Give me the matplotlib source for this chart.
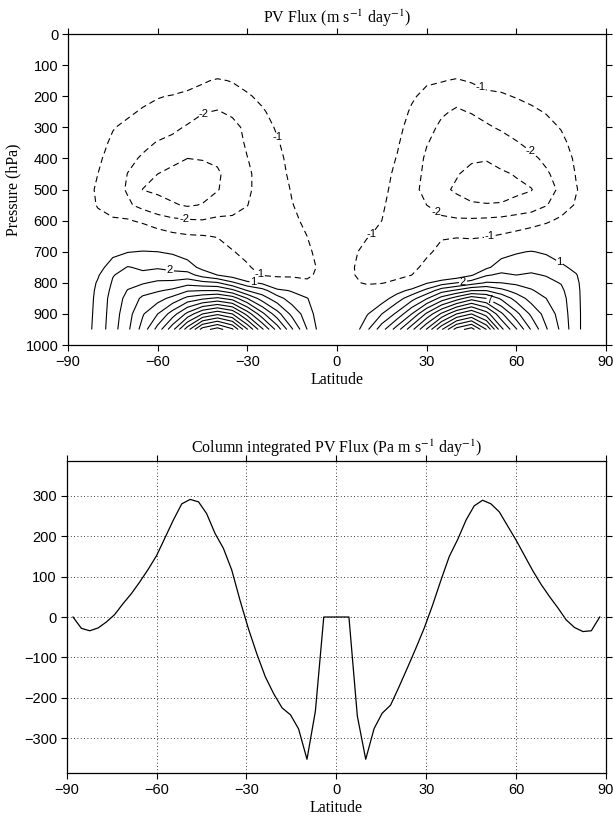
import numpy as np
import matplotlib
matplotlib.use("Agg")
import matplotlib.pyplot as plt

plt.rcParams['font.family'] = 'Liberation Sans'
plt.rcParams['mathtext.fontset'] = 'stix'

# pressure levels (hPa) of the zonal-mean field
plev = [100, 150, 200, 250, 300, 350, 400, 450, 500, 550, 600, 650, 700,
        750, 775, 800, 825, 850, 900, 950]

# PV flux (m s-1 day-1), one column per latitude, values listed top to bottom
lat_sh = [-90, -85, -80, -75, -70, -65, -60, -55, -50, -45, -40, -35, -30,
          -25, -20, -15, -10, -5]
flux_sh = [
    [0]*20,
    [0, 0, -0.1, -0.2, -0.3, -0.4, -0.5, -0.6, -0.7, -0.65, -0.5, -0.3, -0.1, 0.1, 0.2, 0.3, 0.35, 0.4, 0.45, 0.5],
    [0, -0.05, -0.2, -0.35, -0.55, -0.7, -0.85, -1.0, -1.1, -1.05, -0.8, -0.4, 0.1, 0.6, 0.9, 1.1, 1.2, 1.25, 1.3, 1.35],
    [0, -0.1, -0.35, -0.65, -0.95, -1.15, -1.35, -1.5, -1.6, -1.35, -0.9, -0.1, 0.7, 1.5, 1.95, 2.1, 2.25, 2.4, 2.5, 2.6],
    [0, -0.15, -0.5, -0.85, -1.2, -1.5, -1.8, -2.02, -2.1, -1.85, -0.9, -0.1, 0.95, 2.05, 2.35, 2.7, 3.05, 3.3, 3.6, 3.8],
    [0, -0.25, -0.75, -1.1, -1.45, -1.8, -2.1, -2.6, -3.02, -2.3, -1.2, -0.1, 1.05, 1.85, 2.2, 2.9, 3.6, 4.2, 4.9, 5.4],
    [0, -0.35, -0.95, -1.25, -1.65, -2.05, -2.55, -3.0, -3.2, -2.6, -1.6, -0.45, 1.0, 1.9, 2.45, 3.2, 3.9, 4.6, 6.0, 7.4],
    [0, -0.45, -1.05, -1.35, -1.8, -2.25, -2.75, -3.25, -3.35, -2.9, -1.8, -0.75, 0.85, 1.75, 2.3, 3.3, 4.2, 5.3, 7.5, 9.7],
    [-0.05, -0.65, -1.2, -1.6, -2.1, -2.5, -3.0, -3.3, -3.4, -3.1, -1.9, -0.9, 0.5, 1.45, 2.4, 3.6, 4.9, 6.3, 9.3, 12.6],
    [-0.2, -0.9, -1.35, -1.95, -2.3, -2.75, -2.95, -3.35, -3.4, -2.95, -1.95, -0.95, 0.1, 0.7, 1.6, 3.3, 5.0, 6.8, 11.0, 15.5],
    [-0.3, -1.1, -1.6, -2.05, -2.35, -2.7, -2.9, -3.08, -3.05, -2.6, -1.8, -1.05, -0.5, 0.2, 1.0, 3.1, 5.0, 7.2, 11.8, 16.5],
    [-0.3, -0.95, -1.4, -1.85, -2.25, -2.5, -2.7, -2.75, -2.6, -2.3, -1.85, -1.35, -0.95, -0.3, 0.5, 2.2, 4.3, 6.6, 11.0, 15.2],
    [-0.3, -0.7, -1.1, -1.6, -1.8, -1.85, -2.02, -2.15, -2.15, -2.02, -1.7, -1.5, -1.25, -0.9, -0.3, 1.3, 3.0, 5.0, 8.6, 12.1],
    [0, -0.4, -0.8, -1.1, -1.35, -1.5, -1.6, -1.65, -1.65, -1.55, -1.5, -1.45, -1.4, -1.3, -1.1, 0.8, 2.4, 3.5, 6.3, 9.2],
    [0, -0.2, -0.45, -0.7, -0.9, -1.08, -1.2, -1.25, -1.3, -1.3, -1.3, -1.3, -1.3, -1.25, -1.2, -0.3, 1.3, 2.4, 4.4, 6.6],
    [0, -0.1, -0.2, -0.3, -0.45, -0.6, -0.75, -0.85, -0.95, -1.02, -1.1, -1.15, -1.2, -1.2, -1.1, -0.7, 0.9, 1.5, 2.7, 4.1],
    [0, 0, -0.1, -0.2, -0.3, -0.4, -0.5, -0.6, -0.7, -0.8, -0.9, -1.0, -1.1, -1.15, -1.1, -0.9, 0.3, 1.05, 1.5, 2.0],
    [0, 0, -0.05, -0.1, -0.2, -0.25, -0.3, -0.4, -0.45, -0.5, -0.6, -0.7, -0.8, -0.9, -0.85, -0.6, 0.0, 0.2, 0.3, 0.4],
]
lat_nh = [0, 5, 10, 15, 20, 25, 30, 35, 40, 45, 50, 55, 60, 65, 70, 75, 80, 85, 90]
flux_nh = [
    [0]*20,
    [0, 0, -0.05, -0.1, -0.2, -0.3, -0.35, -0.45, -0.5, -0.6, -0.7, -0.8, -0.9, -0.95, -0.95, -0.85, -0.5, -0.2, 0.0, 0.2],
    [0, -0.05, -0.15, -0.25, -0.4, -0.5, -0.6, -0.7, -0.8, -0.88, -0.95, -0.97, -1.15, -1.25, -1.2, -1.1, -0.6, -0.1, 0.9, 1.8],
    [0, -0.1, -0.25, -0.4, -0.55, -0.65, -0.75, -0.82, -0.88, -0.94, -1.0, -1.1, -1.2, -1.3, -1.25, -1.05, -0.4, 0.5, 2.0, 3.6],
    [0, -0.2, -0.45, -0.65, -0.8, -0.92, -1.02, -1.1, -1.15, -1.2, -1.25, -1.3, -1.35, -1.35, -1.25, -0.8, 0.6, 1.5, 3.2, 5.5],
    [-0.1, -0.55, -0.9, -1.1, -1.25, -1.35, -1.45, -1.55, -1.7, -1.75, -1.7, -1.6, -1.45, -1.3, -1.0, -0.1, 1.3, 2.6, 5.0, 7.7],
    [-0.25, -0.9, -1.2, -1.5, -1.75, -1.95, -2.15, -2.25, -2.3, -2.0, -1.85, -1.65, -1.2, -0.7, -0.3, 0.9, 2.3, 3.9, 7.2, 10.1],
    [-0.3, -0.95, -1.5, -1.9, -2.15, -2.35, -2.55, -2.75, -2.85, -2.4, -1.8, -1.1, -0.7, -0.3, 0.0, 1.5, 3.6, 5.4, 9.2, 12.9],
    [-0.35, -1.1, -1.75, -2.1, -2.4, -2.6, -2.8, -2.95, -3.1, -2.75, -1.85, -1.05, -0.6, -0.2, 0.3, 2.0, 4.2, 6.5, 11.0, 15.5],
    [-0.35, -0.9, -1.6, -1.95, -2.35, -2.65, -2.9, -3.2, -3.35, -2.9, -1.85, -1.1, -0.5, 0.2, 0.9, 2.5, 5.0, 7.6, 12.0, 16.5],
    [-0.3, -0.7, -1.2, -1.75, -2.1, -2.55, -2.95, -3.25, -3.4, -2.95, -1.8, -1.05, -0.2, 0.8, 1.9, 3.1, 5.0, 7.0, 10.5, 14.0],
    [-0.2, -0.7, -1.1, -1.55, -1.9, -2.3, -2.75, -3.1, -3.25, -2.95, -1.7, -0.9, 0.6, 1.5, 2.2, 3.0, 4.3, 5.8, 8.2, 10.3],
    [-0.1, -0.5, -0.95, -1.35, -1.7, -2.05, -2.5, -2.95, -3.15, -2.8, -1.5, -0.75, 0.9, 1.6, 2.0, 2.8, 3.6, 4.6, 6.3, 8.1],
    [0, -0.35, -0.8, -1.15, -1.5, -1.8, -2.15, -2.55, -3.05, -2.5, -1.4, -0.5, 1.05, 1.75, 2.1, 2.6, 3.1, 3.6, 4.8, 5.9],
    [0, -0.2, -0.6, -0.95, -1.25, -1.6, -1.85, -2.1, -2.3, -2.05, -1.15, -0.3, 0.85, 1.65, 1.95, 2.25, 2.6, 3.0, 3.6, 4.1],
    [0, -0.1, -0.35, -0.65, -0.95, -1.2, -1.45, -1.7, -1.85, -1.5, -0.8, -0.1, 0.6, 1.15, 1.6, 1.95, 2.2, 2.4, 2.6, 2.8],
    [0, 0, -0.15, -0.35, -0.55, -0.7, -0.85, -0.95, -1.05, -0.9, -0.55, -0.15, 0.3, 0.8, 1.05, 1.15, 1.2, 1.22, 1.25, 1.25],
    [0, 0, -0.05, -0.15, -0.25, -0.35, -0.45, -0.5, -0.55, -0.5, -0.3, -0.1, 0.1, 0.3, 0.35, 0.4, 0.4, 0.4, 0.4, 0.4],
    [0]*20,
]

# column integrated PV flux (Pa m s-1 day-1) on the model latitudes
col_lat = [-87.9, -85.1, -82.3, -79.5, -76.7, -74.0, -71.2, -68.4, -65.6, -62.8,
           -60.0, -57.2, -54.4, -51.6, -48.8, -46.0, -43.3, -40.5, -37.7, -34.9,
           -32.1, -29.3, -26.5, -23.7, -20.9, -18.1, -15.3, -12.6, -9.8, -7.0,
           -4.2, -1.4, 1.4, 4.2, 7.0, 9.8, 12.6, 15.3, 18.1, 20.9, 23.7, 26.5,
           29.3, 32.1, 34.9, 37.7, 40.5, 43.3, 46.0, 48.8, 51.6, 54.4, 57.2,
           60.0, 62.8, 65.6, 68.4, 71.2, 74.0, 76.7, 79.5, 82.3, 85.1, 87.9]
col_flux = [0, -28, -34, -27, -12, 6, 33, 58, 87, 118,
            152, 196, 240, 280, 291, 285, 256, 207, 170, 116,
            40, -30, -92, -148, -190, -225, -242, -277, -352, -233,
            0, 0, 0, 0, -245, -352, -276, -238, -218, -173, -126, -78,
            -28, 29, 91, 150, 192, 240, 275, 289, 280, 260, 225,
            190, 152, 114, 80, 50, 22, -7, -26, -36, -34, 0]

lat_ticks = [-90, -60, -30, 0, 30, 60, 90]
neg_levels = [-3, -2, -1]
pos_levels = list(range(1, 18))

lats = np.array(lat_sh + lat_nh)
field = np.array(flux_sh + flux_nh).T

serif = 'Liberation Serif'
fsz = 11.5

fig = plt.figure(figsize=(6.13, 8.18), dpi=100)

# ---- top panel: PV flux cross section
ax1 = fig.add_axes([0.1109, 0.5782, 0.8777, 0.3802])
cneg = ax1.contour(lats, plev, field, levels=neg_levels, colors='k',
                   linewidths=0.8)
cneg.set_linestyle((0, (5.5, 3.5)))
cpos = ax1.contour(lats, plev, field, levels=pos_levels, colors='k',
                   linewidths=0.8, linestyles='solid')

lab_neg = ax1.clabel(cneg, fmt='%d', fontsize=8, inline=True, inline_spacing=1,
                     manual=[(-44, 270), (-21, 335), (-51, 587), (-25, 764),
                             (48, 171), (65, 373), (33, 575), (51, 646), (12, 646)])
lab_pos = ax1.clabel(cpos, fmt='%d', fontsize=8, inline=True, inline_spacing=1,
                     manual=[(-56, 764), (-28, 802), (75, 727), (42, 791), (51, 858)])
for t in list(lab_neg) + list(lab_pos):
    t.set_rotation(0)

ax1.set_xlim(-90, 90)
ax1.set_ylim(1000, 0)
ax1.set_xticks(lat_ticks)
ax1.set_yticks(np.arange(0, 1001, 100))
ax1.set_xlabel('Latitude', fontfamily=serif, fontsize=fsz, labelpad=2)
ax1.set_ylabel('Pressure (hPa)', fontfamily=serif, fontsize=fsz, labelpad=3)
ax1.set_title('PV Flux (m s$^{-1}$ day$^{-1}$)', fontfamily=serif, fontsize=fsz, pad=8)

# ---- bottom panel: column integrated flux
ax2 = fig.add_axes([0.1088, 0.0550, 0.8798, 0.3814])
ax2.plot(col_lat, col_flux, color='k', lw=0.9)
ax2.set_xlim(-90, 90)
ax2.set_ylim(-386, 386)
ax2.set_xticks(lat_ticks)
ax2.set_yticks([-300, -200, -100, 0, 100, 200, 300])
ax2.grid(True, color='k', lw=0.6, linestyle=(0, (1, 3)))
ax2.set_xlabel('Latitude', fontfamily=serif, fontsize=fsz, labelpad=2)
ax2.set_title('Column integrated PV Flux (Pa m s$^{-1}$ day$^{-1}$)',
              fontfamily=serif, fontsize=fsz, pad=6)

for ax in (ax1, ax2):
    ax.tick_params(direction='out', length=4, width=0.8, top=True, right=True,
                   labeltop=False, labelright=False, labelsize=10.5, pad=3)
    for s in ax.spines.values():
        s.set_linewidth(0.9)

fig.savefig('out.png', dpi=100)
